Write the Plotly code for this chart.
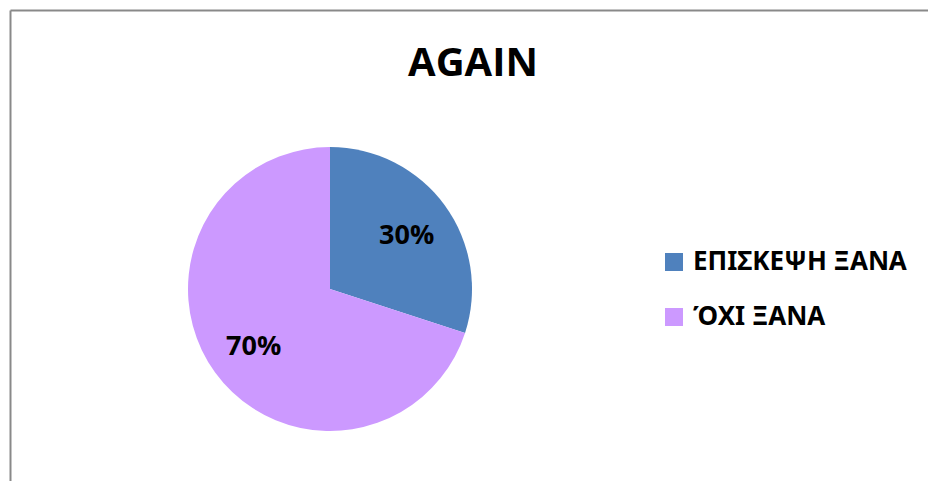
import math
import plotly.graph_objects as go

categories = ["ΕΠΙΣΚΕΨΗ ΞΑΝΑ", "ΌΧΙ ΞΑΝΑ"]
shares = [30, 70]
slice_colors = ["#4F81BD", "#CC99FF"]
title_text = "AGAIN"

W, H = 928, 481
FONT = "Open Sans"
LEGEND_FONT = "Noto Sans"

# pie placement in pixels
cx, cy, r = 330, 289, 142
label_radius = 0.67  # fraction of the radius where percentage labels sit

fig = go.Figure(go.Pie(
    labels=categories,
    values=shares,
    sort=False,
    direction="clockwise",
    rotation=0,
    marker=dict(colors=slice_colors, line=dict(width=0)),
    textinfo="none",
    showlegend=False,
    domain=dict(x=[(cx - r) / W, (cx + r) / W], y=[1 - (cy + r) / H, 1 - (cy - r) / H]),
    hoverinfo="label+percent",
))

annotations = []
shapes = []

# percentage labels on the slice bisectors
total = sum(shares)
start = 0.0
for v in shares:
    mid = (start + v / 2) / total * 2 * math.pi  # clockwise from 12 o'clock
    px = cx + label_radius * r * math.sin(mid)
    py = cy - label_radius * r * math.cos(mid)
    annotations.append(dict(
        text=f"<b>{round(v / total * 100)}%</b>", x=px / W, y=1 - py / H,
        xref="paper", yref="paper", showarrow=False, xanchor="center", yanchor="middle",
        font=dict(family=FONT, size=27, color="black")))
    start += v

# legend: colour swatch + label per category
leg_x, leg_y0, leg_step, sw = 665, 262, 55, 18
for i, (name, col) in enumerate(zip(categories, slice_colors)):
    yc = leg_y0 + i * leg_step
    shapes.append(dict(type="rect", xref="paper", yref="paper",
                       x0=leg_x / W, x1=(leg_x + sw) / W,
                       y0=1 - (yc + sw / 2) / H, y1=1 - (yc - sw / 2) / H,
                       fillcolor=col, line=dict(width=0)))
    annotations.append(dict(
        text=name, x=(leg_x + sw + 8) / W, y=1 - (yc - 2) / H,
        xref="paper", yref="paper", showarrow=False, xanchor="left", yanchor="middle",
        font=dict(family=LEGEND_FONT, size=26, color="black", weight="bold")))

# chart-area frame (top and left edges)
shapes += [
    dict(type="line", xref="paper", yref="paper", x0=10.5 / W, x1=1, y0=1 - 10.5 / H, y1=1 - 10.5 / H,
         line=dict(color="#898989", width=2)),
    dict(type="line", xref="paper", yref="paper", x0=10.5 / W, x1=10.5 / W, y0=1 - 10.5 / H, y1=0,
         line=dict(color="#898989", width=2)),
]

fig.update_layout(
    width=W, height=H,
    margin=dict(l=0, r=0, t=0, b=0),
    paper_bgcolor="white",
    plot_bgcolor="white",
    title=dict(text=f"<b>{title_text}</b>", x=473 / W, y=1 - 62 / H, xanchor="center", yanchor="middle",
               font=dict(family=FONT, size=40, color="black")),
    annotations=annotations,
    shapes=shapes,
)

fig.write_html("out.html", config=dict(displayModeBar=False))
